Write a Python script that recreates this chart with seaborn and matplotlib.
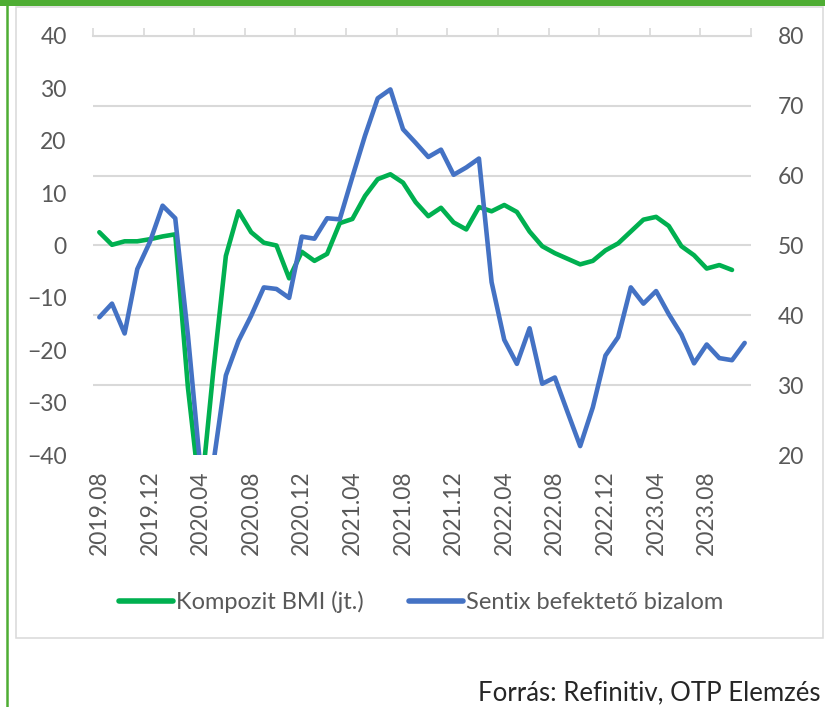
import numpy as np
import pandas as pd
import seaborn as sns
import matplotlib.pyplot as plt
from matplotlib.lines import Line2D
from matplotlib.patches import Rectangle

# ----------------------
# Data (monthly, 2019.08 - 2023.11)
# ----------------------
months = pd.period_range("2019-08", "2023-11", freq="M").strftime("%Y.%m").tolist()

# Sentix befektetői bizalom (left axis)
sentix = [-13.7, -11.1, -16.8, -4.5, 0.7, 7.6, 5.2, -17.1, -42.9, -41.8,
          -24.8, -18.2, -13.4, -8.0, -8.3, -10.0, 1.7, 1.3, 5.2, 5.0,
          13.1, 21.0, 28.1, 29.8, 22.2, 19.6, 16.9, 18.3, 13.5, 14.9,
          16.6, -7.0, -18.0, -22.6, -15.8, -26.4, -25.2, -31.8, -38.3, -30.9,
          -21.0, -17.5, -8.0, -11.1, -8.7, -13.1, -17.0, -22.5, -18.9, -21.5,
          -21.9, -18.6]

# Kompozit BMI (right axis), last value 2023.10
bmi = [51.9, 50.1, 50.6, 50.6, 50.9, 51.3, 51.6, 29.7, 13.6, 31.9,
       48.5, 54.9, 51.9, 50.4, 50.0, 45.3, 49.1, 47.8, 48.8, 53.2,
       53.8, 57.1, 59.5, 60.2, 59.0, 56.2, 54.2, 55.4, 53.3, 52.3,
       55.5, 54.9, 55.8, 54.8, 52.0, 49.9, 48.9, 48.1, 47.3, 47.8,
       49.3, 50.3, 52.0, 53.7, 54.1, 52.8, 49.9, 48.6, 46.7, 47.2,
       46.5]

df_sentix = pd.DataFrame({"x": range(len(sentix)), "v": sentix})
df_bmi = pd.DataFrame({"x": range(len(bmi)), "v": bmi})

GREEN = "#00B050"
BLUE = "#4472C4"
GRID = "#D9D9D9"
TXT = "#595959"
FRAME_GREEN = "#4EAD33"

sns.set_theme(style="white")
plt.rcParams["font.family"] = ["Lato", "DejaVu Sans"]

fig = plt.figure(figsize=(8.25, 7.07), dpi=100)
ax = fig.add_axes([93 / 825, 1 - 455 / 707, 658 / 825, 419 / 707])
ax2 = ax.twinx()

# ----------------------
# Lines
# ----------------------
sns.lineplot(data=df_bmi, x="x", y="v", ax=ax2, color=GREEN, linewidth=3.3,
             solid_joinstyle="round", solid_capstyle="round")
sns.lineplot(data=df_sentix, x="x", y="v", ax=ax, color=BLUE, linewidth=3.3,
             solid_joinstyle="round", solid_capstyle="round")

# blue drawn above green
ax.set_zorder(ax2.get_zorder() + 1)
ax.patch.set_visible(False)

ax.set_xlim(-0.5, len(months) - 0.5)
ax.set_ylim(-40, 40)
ax2.set_ylim(20, 80)

ax.set_xlabel("")
ax.set_ylabel("")
ax2.set_ylabel("")

# x axis: labels at bottom, axis line with ticks at top
ax.set_xticks(range(0, len(months), 4), [months[i] for i in range(0, len(months), 4)])
ax.set_xticks(np.arange(-0.5, len(months), 4), minor=True)
ax.tick_params(axis="x", which="major", length=0, bottom=True, top=False,
               labelbottom=True, rotation=90, labelsize=16.5, labelcolor=TXT, pad=11)
ax.tick_params(axis="x", which="minor", bottom=False, top=True, length=6,
               width=1.2, color=GRID, direction="out")

ax.set_yticks(range(-40, 41, 10))
ax.tick_params(axis="y", length=0, labelsize=16.5, labelcolor=TXT, pad=19)
ax2.set_yticks(range(20, 81, 10))
ax2.tick_params(axis="y", length=0, labelsize=16.5, labelcolor=TXT, pad=19)

for a in (ax, ax2):
    for s in a.spines.values():
        s.set_visible(False)
ax.spines["top"].set_visible(True)
ax.spines["top"].set_color(GRID)
ax.spines["top"].set_linewidth(1.5)

ax.grid(False)
ax2.yaxis.grid(True, color=GRID, linewidth=1.5)
ax2.xaxis.grid(False)
ax2.get_ygridlines()[0].set_visible(False)

# ----------------------
# Legend and frame
# ----------------------
handles = [Line2D([], [], color=GREEN, linewidth=4, solid_capstyle="round"),
           Line2D([], [], color=BLUE, linewidth=4, solid_capstyle="round")]
fig.legend(handles, ["Kompozit BMI (jt.)", "Sentix befektető bizalom"],
           loc="center", bbox_to_anchor=(421 / 825, 1 - 602 / 707), ncol=2,
           frameon=False, fontsize=17, handlelength=2.3, handletextpad=0.12,
           columnspacing=1.9, labelcolor=TXT)

fig.add_artist(Rectangle((16 / 825, 1 - 638 / 707), 807 / 825, 631 / 707,
                         transform=fig.transFigure, fill=False,
                         edgecolor=GRID, linewidth=1.1))
fig.add_artist(Rectangle((0, 1 - 6 / 707), 1, 6 / 707, transform=fig.transFigure,
                         color=FRAME_GREEN, linewidth=0))
fig.add_artist(Line2D([7 / 825, 7 / 825], [0, 1], transform=fig.transFigure,
                      color=FRAME_GREEN, linewidth=1.8))

fig.text(820 / 825, 1 - 693 / 707, "Forrás: Refinitiv, OTP Elemzés",
         ha="right", va="center", fontsize=18.5, color="#262626")

fig.savefig("out.png", dpi=100)
